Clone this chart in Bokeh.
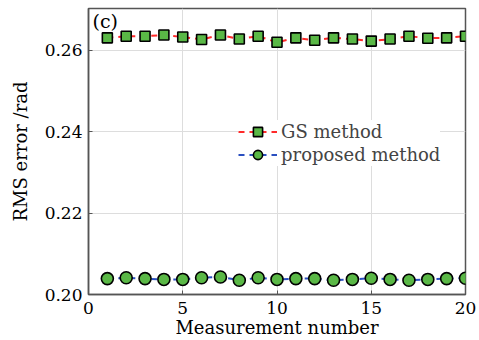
from bokeh.plotting import figure
from bokeh.models import Range1d, FixedTicker, Legend, LegendItem, Label, PrintfTickFormatter
from bokeh.embed import file_html
from bokeh.resources import INLINE

measurement = list(range(1, 21))
gs_rms = [0.2630, 0.2634, 0.2634, 0.2637, 0.2632, 0.2626, 0.2637, 0.2627, 0.2634, 0.2619,
          0.2630, 0.2624, 0.2630, 0.2627, 0.2622, 0.2627, 0.2634, 0.2629, 0.2630, 0.2634]
proposed_rms = [0.2039, 0.2041, 0.2039, 0.2037, 0.2037, 0.2041, 0.2043, 0.2035, 0.2041, 0.2037,
                0.2039, 0.2039, 0.2035, 0.2037, 0.2040, 0.2037, 0.2035, 0.2037, 0.2039, 0.2040]
x_ticks = [0, 5, 10, 15, 20]
y_ticks = [0.20, 0.22, 0.24, 0.26]

FONT = "DejaVu Serif"
GREEN = "#5ab846"

p = figure(width=479, height=340, output_backend="svg", toolbar_location=None,
           x_range=Range1d(0, 20), y_range=Range1d(0.2, 0.2702),
           min_border_left=88, min_border_right=14, min_border_top=8, min_border_bottom=44)
p.background_fill_color = "white"
p.border_fill_color = "white"
p.outline_line_color = "#555555"
p.outline_line_width = 1.5

for ax in (p.xaxis[0], p.yaxis[0]):
    ax.axis_line_color = "#555555"
    ax.axis_line_width = 1.5
    ax.major_tick_in = 4
    ax.major_tick_out = 0
    ax.minor_tick_line_color = None
    ax.major_tick_line_color = "#555555"
    ax.major_label_text_font = FONT
    ax.major_label_text_font_size = "17px"
    ax.major_label_text_color = "black"
    ax.axis_label_text_font = FONT
    ax.axis_label_text_font_size = "18px"
    ax.axis_label_text_font_style = "normal"
    ax.axis_label_text_color = "black"

p.xaxis.ticker = FixedTicker(ticks=x_ticks)
p.yaxis.ticker = FixedTicker(ticks=y_ticks)
p.yaxis.formatter = PrintfTickFormatter(format="%.2f")
p.xaxis.axis_label = "Measurement number"
p.yaxis.axis_label = "RMS error /rad"
p.xaxis.major_label_standoff = 7
p.xaxis.axis_label_standoff = 0
p.yaxis.major_label_standoff = 6
p.yaxis.axis_label_standoff = 11

p.xgrid.grid_line_color = "#dddddd"
p.ygrid.grid_line_color = "#dddddd"
p.xgrid.ticker = FixedTicker(ticks=[5, 10, 15])
p.ygrid.ticker = FixedTicker(ticks=[0.22, 0.24, 0.26])

gl = p.line(measurement, gs_rms, line_color="#ff2a2a", line_width=2, line_dash="6 5")
gm = p.scatter(measurement, gs_rms, marker="square", size=10, fill_color=GREEN,
               line_color="black", line_width=1.6)
pl = p.line(measurement, proposed_rms, line_color="#2a4fc0", line_width=2, line_dash="6 5")
pm = p.scatter(measurement, proposed_rms, marker="circle", size=12, fill_color=GREEN,
               line_color="black", line_width=1.6)

legend = Legend(items=[LegendItem(label="GS method", renderers=[gl, gm]),
                       LegendItem(label="proposed method", renderers=[pl, pm])],
                location=(150, 128))
legend.label_text_font = FONT
legend.label_text_font_size = "18px"
legend.glyph_width = 39
legend.glyph_height = 23
legend.label_height = 20
legend.spacing = 0
legend.label_standoff = 4
legend.padding = 12
legend.margin = 0
legend.border_line_color = None
legend.background_fill_color = "white"
legend.background_fill_alpha = 1.0
p.add_layout(legend)

p.add_layout(Label(x=0, y=0.2702, x_offset=4, y_offset=-1, text="(c)",
                   text_font=FONT, text_font_size="19px", text_color="black",
                   text_baseline="top", text_align="left"))

open("out.html", "w").write(file_html(p, INLINE))
